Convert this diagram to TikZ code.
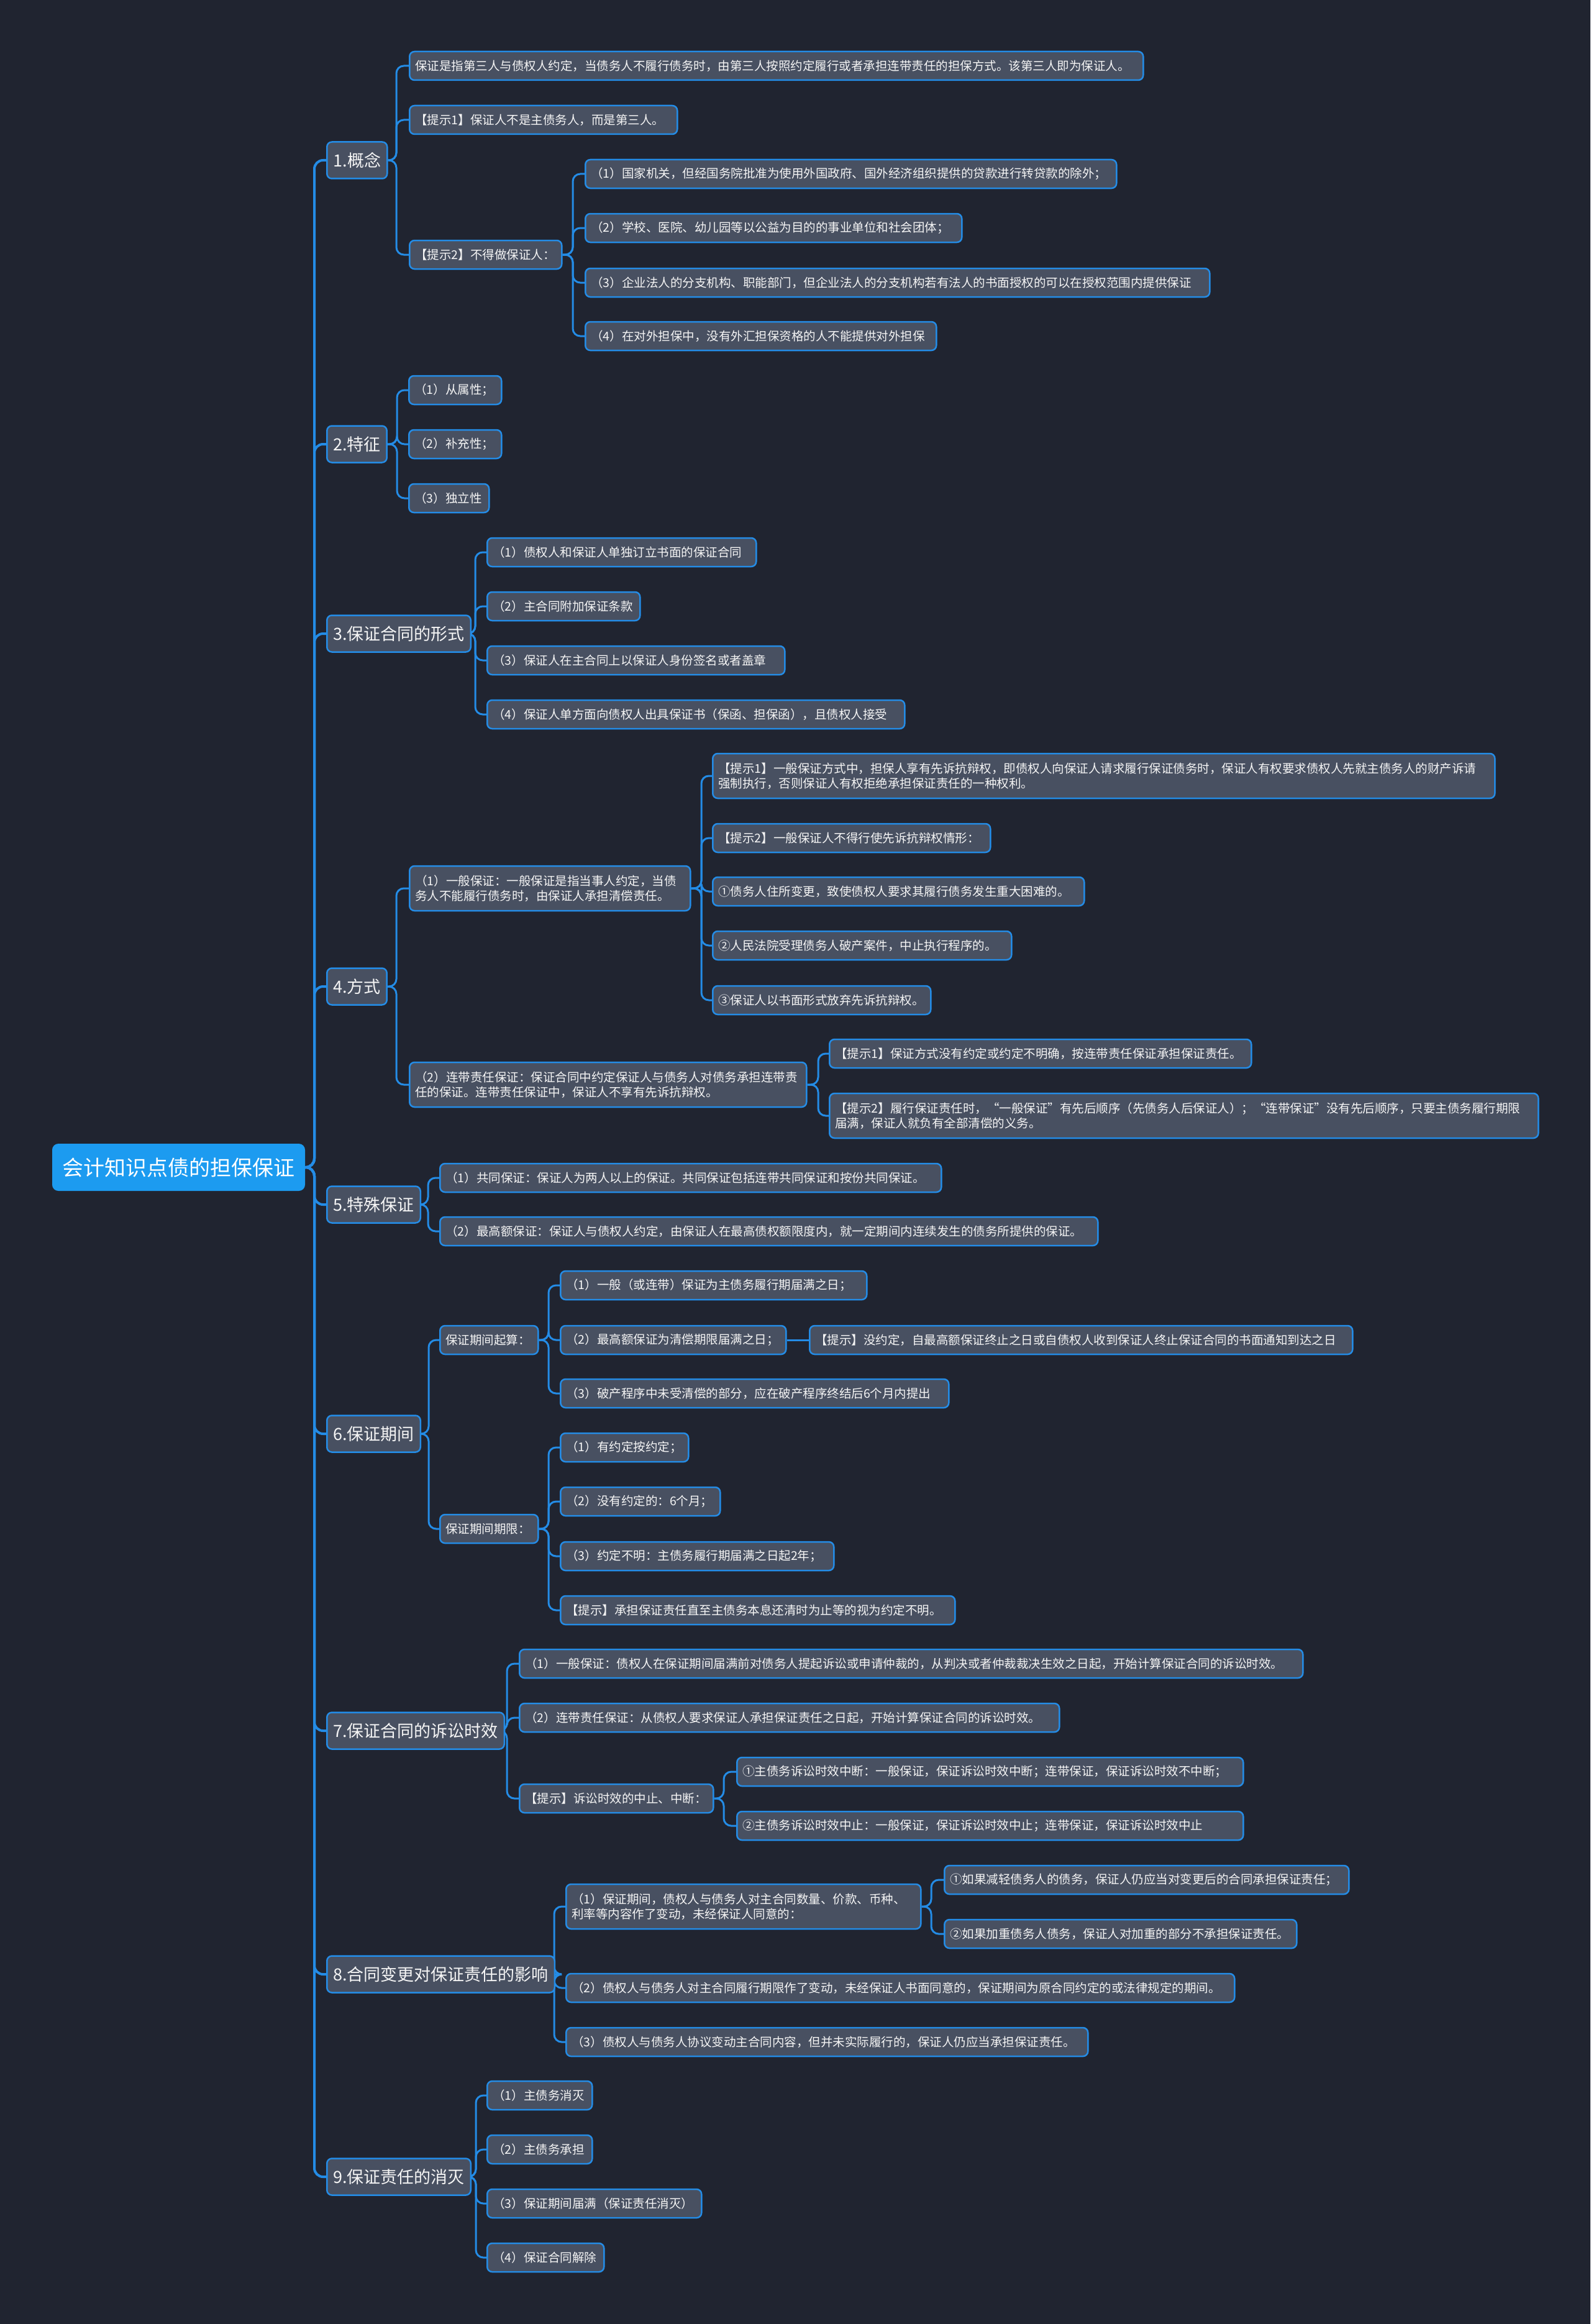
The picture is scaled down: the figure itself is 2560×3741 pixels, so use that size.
\documentclass[tikz,border=0pt]{standalone}
\usepackage{fontspec}
\usetikzlibrary{backgrounds}
\newfontfamily\cjk{Noto Sans CJK SC}
\definecolor{bgc}{RGB}{32,36,48}
\definecolor{nfill}{RGB}{72,80,97}
\definecolor{nborder}{RGB}{36,140,230}
\definecolor{lnc}{RGB}{36,140,230}
\definecolor{rootc}{RGB}{28,155,240}
\definecolor{txt}{RGB}{245,245,245}
\begin{document}
\begin{tikzpicture}[x=1pt,y=-1pt,
  lf/.style={draw=nborder,fill=nfill,line width=2.5pt,rounded corners=8pt,text=txt,
    font=\cjk\fontsize{19.5}{24}\selectfont,inner xsep=9pt,inner ysep=4pt,
    minimum height=46pt,anchor=west,align=left},
  lf2/.style={lf,minimum height=72pt},
  lv/.style={lf,font=\cjk\fontsize{27}{32}\selectfont,minimum height=59pt,inner xsep=10pt},
  rootn/.style={fill=rootc,draw=rootc,line width=2pt,rounded corners=9pt,text=white,
    font=\cjk\fontsize{34}{40}\selectfont,minimum height=74pt,minimum width=405pt,anchor=west},
  cn/.style={draw=lnc,line width=3pt,rounded corners=12pt},
  trk/.style={draw=lnc,line width=4pt,rounded corners=14pt},
  w/.style={text width=#1pt-18pt}]
\useasboundingbox (0,0) rectangle (2560,3741);

% root
\node[rootn] (root) at (84,1879) {会计知识点债的担保保证};

% level 1
\node[lv,minimum width=97pt] (n1) at (525,258) {1.概念};
\node[lv,minimum width=95pt] (n2) at (525,715) {2.特征};
\node[lv,minimum width=221pt] (n3) at (525,1020) {3.保证合同的形式};
\node[lv,minimum width=96pt] (n4) at (525,1588) {4.方式};
\node[lv,minimum width=146pt] (n5) at (525,1939) {5.特殊保证};
\node[lv,minimum width=146pt] (n6) at (525,2308) {6.保证期间};
\node[lv,minimum width=272pt] (n7) at (525,2786) {7.保证合同的诉讼时效};
\node[lv,minimum width=347pt] (n8) at (525,3178) {8.合同变更对保证责任的影响};
\node[lv,minimum width=222pt] (n9) at (525,3504) {9.保证责任的消灭};

% 1
\node[lf,w=1181] (n1a) at (658,106) {保证是指第三人与债权人约定，当债务人不履行债务时，由第三人按照约定履行或者承担连带责任的担保方式。该第三人即为保证人。};
\node[lf,w=431] (n1b) at (658,193) {【提示1】保证人不是主债务人，而是第三人。};
\node[lf,w=245] (n1c) at (658,410) {【提示2】不得做保证人：};
\node[lf,w=855] (n1c1) at (941,280) {（1）国家机关，但经国务院批准为使用外国政府、国外经济组织提供的贷款进行转贷款的除外；};
\node[lf,w=606] (n1c2) at (941,367) {（2）学校、医院、幼儿园等以公益为目的的事业单位和社会团体；};
\node[lf,w=1005] (n1c3) at (941,455) {（3）企业法人的分支机构、职能部门，但企业法人的分支机构若有法人的书面授权的可以在授权范围内提供保证};
\node[lf,w=565] (n1c4) at (941,541) {（4）在对外担保中，没有外汇担保资格的人不能提供对外担保};

% 2
\node[lf,w=149] (n2a) at (657,628) {（1）从属性；};
\node[lf,w=149] (n2b) at (657,715) {（2）补充性；};
\node[lf,w=129] (n2c) at (657,802) {（3）独立性};

% 3
\node[lf,w=433] (n3a) at (783,889) {（1）债权人和保证人单独订立书面的保证合同};
\node[lf,w=246] (n3b) at (783,976) {（2）主合同附加保证条款};
\node[lf,w=479] (n3c) at (783,1063) {（3）保证人在主合同上以保证人身份签名或者盖章};
\node[lf,w=672] (n3d) at (783,1150) {（4）保证人单方面向债权人出具保证书（保函、担保函），且债权人接受};

% 4
\node[lf2,w=452] (n4a) at (658,1430) {（1）一般保证：一般保证是指当事人约定，当债\\务人不能履行债务时，由保证人承担清偿责任。};
\node[lf2,w=1259] (n4a1) at (1146,1249) {【提示1】一般保证方式中，担保人享有先诉抗辩权，即债权人向保证人请求履行保证债务时，保证人有权要求债权人先就主债务人的财产诉请\\强制执行，否则保证人有权拒绝承担保证责任的一种权利。};
\node[lf,w=447] (n4a2) at (1146,1349) {【提示2】一般保证人不得行使先诉抗辩权情形：};
\node[lf,w=598] (n4a3) at (1146,1435) {①债务人住所变更，致使债权人要求其履行债务发生重大困难的。};
\node[lf,w=481] (n4a4) at (1146,1522) {②人民法院受理债务人破产案件，中止执行程序的。};
\node[lf,w=351] (n4a5) at (1146,1610) {③保证人以书面形式放弃先诉抗辩权。};
\node[lf2,w=639] (n4b) at (658,1746) {（2）连带责任保证：保证合同中约定保证人与债务人对债务承担连带责\\任的保证。连带责任保证中，保证人不享有先诉抗辩权。};
\node[lf,w=679] (n4b1) at (1334,1696) {【提示1】保证方式没有约定或约定不明确，按连带责任保证承担保证责任。};
\node[lf2,w=1141] (n4b2) at (1334,1796) {【提示2】履行保证责任时，“一般保证”有先后顺序（先债务人后保证人）；“连带保证”没有先后顺序，只要主债务履行期限\\届满，保证人就负有全部清偿的义务。};

% 5
\node[lf,w=807] (n5a) at (707,1896) {（1）共同保证：保证人为两人以上的保证。共同保证包括连带共同保证和按份共同保证。};
\node[lf,w=1059] (n5b) at (707,1982) {（2）最高额保证：保证人与债权人约定，由保证人在最高债权额限度内，就一定期间内连续发生的债务所提供的保证。};

% 6
\node[lf,w=158] (n6a) at (707,2157) {保证期间起算：};
\node[lf,w=493] (n6a1) at (901,2069) {（1）一般（或连带）保证为主债务履行期届满之日；};
\node[lf,w=363] (n6a2) at (901,2157) {（2）最高额保证为清偿期限届满之日；};
\node[lf,w=874] (n6a2x) at (1302,2157) {【提示】没约定，自最高额保证终止之日或自债权人收到保证人终止保证合同的书面通知到达之日};
\node[lf,w=625] (n6a3) at (901,2243) {（3）破产程序中未受清偿的部分，应在破产程序终结后6个月内提出};
\node[lf,w=158] (n6b) at (707,2461) {保证期间期限：};
\node[lf,w=206] (n6b1) at (901,2330) {（1）有约定按约定；};
\node[lf,w=257] (n6b2) at (901,2417) {（2）没有约定的：6个月；};
\node[lf,w=440] (n6b3) at (901,2505) {（3）约定不明：主债务履行期届满之日起2年；};
\node[lf,w=635] (n6b4) at (901,2592) {【提示】承担保证责任直至主债务本息还清时为止等的视为约定不明。};

% 7
\node[lf,w=1261] (n7a) at (835,2678) {（1）一般保证：债权人在保证期间届满前对债务人提起诉讼或申请仲裁的，从判决或者仲裁裁决生效之日起，开始计算保证合同的诉讼时效。};
\node[lf,w=869] (n7b) at (835,2765) {（2）连带责任保证：从债权人要求保证人承担保证责任之日起，开始计算保证合同的诉讼时效。};
\node[lf,w=312] (n7c) at (835,2895) {【提示】诉讼时效的中止、中断：};
\node[lf,w=815] (n7c1) at (1185,2852) {①主债务诉讼时效中断：一般保证，保证诉讼时效中断；连带保证，保证诉讼时效不中断；};
\node[lf,w=815] (n7c2) at (1185,2939) {②主债务诉讼时效中止：一般保证，保证诉讼时效中止；连带保证，保证诉讼时效中止};

% 8
\node[lf2,w=571] (n8a) at (910,3069) {（1）保证期间，债权人与债务人对主合同数量、价款、币种、\\利率等内容作了变动，未经保证人同意的：};
\node[lf,w=651] (n8a1) at (1519,3026) {①如果减轻债务人的债务，保证人仍应当对变更后的合同承担保证责任；};
\node[lf,w=567] (n8a2) at (1519,3113) {②如果加重债务人债务，保证人对加重的部分不承担保证责任。};
\node[lf,w=1076] (n8b) at (910,3200) {（2）债权人与债务人对主合同履行期限作了变动，未经保证人书面同意的，保证期间为原合同约定的或法律规定的期间。};
\node[lf,w=840] (n8c) at (910,3287) {（3）债权人与债务人协议变动主合同内容，但并未实际履行的，保证人仍应当承担保证责任。};

% 9
\node[lf,w=169] (n9a) at (783,3373) {（1）主债务消灭};
\node[lf,w=169] (n9b) at (783,3460) {（2）主债务承担};
\node[lf,w=345] (n9c) at (783,3547) {（3）保证期间届满（保证责任消灭）};
\node[lf,w=188] (n9d) at (783,3634) {（4）保证合同解除};

% bar coordinates
\coordinate (tr) at (506,1879);
\coordinate (b1) at (638,258);
\coordinate (b1c) at (922,410);
\coordinate (b2) at (639,715);
\coordinate (b3) at (765,1020);
\coordinate (b4) at (638,1588);
\coordinate (b4a) at (1129,1430);
\coordinate (b4b) at (1317,1746);
\coordinate (b5) at (689,1939);
\coordinate (b6) at (690,2308);
\coordinate (b6a) at (883,2157);
\coordinate (b6b) at (883,2461);
\coordinate (b7) at (816,2786);
\coordinate (b7c) at (1165,2895);
\coordinate (b8) at (892,3178);
\coordinate (b8a) at (1499,3069);
\coordinate (b9) at (766,3504);

% background and connectors behind nodes
\begin{pgfonlayer}{background}
\fill[bgc] (0,0) rectangle (2560,3741);
\foreach \c in {n1,n2,n3,n4,n5,n6,n7,n8,n9}{\draw[trk] (root.east) -- (tr) |- (\c.west);}
\foreach \c in {n1a,n1b,n1c}{\draw[cn] (n1.east) -- (b1) |- (\c.west);}
\foreach \c in {n1c1,n1c2,n1c3,n1c4}{\draw[cn] (n1c.east) -- (b1c) |- (\c.west);}
\foreach \c in {n2a,n2b,n2c}{\draw[cn] (n2.east) -- (b2) |- (\c.west);}
\foreach \c in {n3a,n3b,n3c,n3d}{\draw[cn] (n3.east) -- (b3) |- (\c.west);}
\foreach \c in {n4a,n4b}{\draw[cn] (n4.east) -- (b4) |- (\c.west);}
\foreach \c in {n4a1,n4a2,n4a3,n4a4,n4a5}{\draw[cn] (n4a.east) -- (b4a) |- (\c.west);}
\foreach \c in {n4b1,n4b2}{\draw[cn] (n4b.east) -- (b4b) |- (\c.west);}
\foreach \c in {n5a,n5b}{\draw[cn] (n5.east) -- (b5) |- (\c.west);}
\foreach \c in {n6a,n6b}{\draw[cn] (n6.east) -- (b6) |- (\c.west);}
\foreach \c in {n6a1,n6a2,n6a3}{\draw[cn] (n6a.east) -- (b6a) |- (\c.west);}
\draw[cn] (n6a2.east) -- (n6a2x.west);
\foreach \c in {n6b1,n6b2,n6b3,n6b4}{\draw[cn] (n6b.east) -- (b6b) |- (\c.west);}
\foreach \c in {n7a,n7b,n7c}{\draw[cn] (n7.east) -- (b7) |- (\c.west);}
\foreach \c in {n7c1,n7c2}{\draw[cn] (n7c.east) -- (b7c) |- (\c.west);}
\foreach \c in {n8a,n8b,n8c}{\draw[cn] (n8.east) -- (b8) |- (\c.west);}
\foreach \c in {n8a1,n8a2}{\draw[cn] (n8a.east) -- (b8a) |- (\c.west);}
\foreach \c in {n9a,n9b,n9c,n9d}{\draw[cn] (n9.east) -- (b9) |- (\c.west);}
\end{pgfonlayer}
\end{tikzpicture}
\end{document}
